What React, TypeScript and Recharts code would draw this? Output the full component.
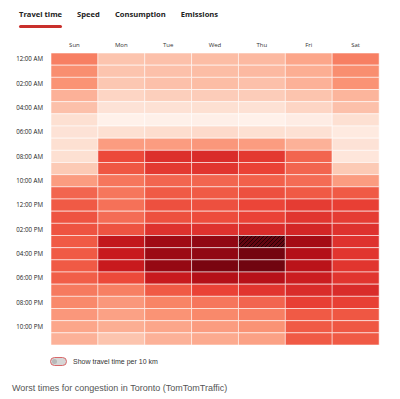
import { BarChart, Bar, XAxis, YAxis, Cell } from 'recharts';

const days = ['Sun', 'Mon', 'Tue', 'Wed', 'Thu', 'Fri', 'Sat'];
const hourTicks = [
  '12:00 AM', '02:00 AM', '04:00 AM', '06:00 AM', '08:00 AM', '10:00 AM',
  '12:00 PM', '02:00 PM', '04:00 PM', '06:00 PM', '08:00 PM', '10:00 PM',
];
const tabs = ['Travel time', 'Speed', 'Consumption', 'Emissions'];

// congestion level per hour (0 = 12 AM ... 23 = 11 PM), 0-100
const sun = [46, 43, 42, 35, 31, 20, 18, 20, 20, 28, 40, 52, 55, 57, 57, 55, 55, 55, 54, 47, 44, 41, 38, 35];
const mon = [30, 30, 29, 24, 18, 5, 20, 40, 60, 56, 48, 48, 49, 50, 57, 77, 75, 75, 60, 46, 41, 39, 36, 30];
const tue = [31, 31, 31, 26, 19, 6, 21, 40, 68, 65, 52, 55, 58, 58, 67, 87, 88, 89, 75, 55, 45, 42, 38, 35];
const wed = [32, 32, 32, 27, 20, 7, 22, 41, 69, 66, 52, 55, 58, 59, 67, 90, 90, 94, 82, 62, 48, 44, 40, 37];
const thu = [33, 33, 31, 27, 19, 5, 20, 40, 65, 62, 53, 58, 61, 62, 69, 98, 95, 96, 81, 66, 52, 46, 42, 39];
const fri = [38, 36, 35, 30, 24, 10, 19, 35, 52, 52, 50, 55, 64, 66, 71, 86, 82, 80, 74, 69, 63, 55, 55, 55];
const sat = [46, 43, 42, 34, 31, 20, 12, 18, 15, 28, 40, 55, 63, 64, 67, 67, 66, 66, 66, 69, 63, 56, 56, 55];
const values = [sun, mon, tue, wed, thu, fri, sat];

// busiest slot, drawn hatched
const peakDay = 'Thu';
const peakHour = 15;

const stops: [number, string][] = [
  [0, '#fff5f0'], [10, '#feece4'], [20, '#fde0d2'], [30, '#fcc4ae'], [38, '#fca68a'],
  [45, '#f88466'], [50, '#f46c55'], [55, '#f05a45'], [62, '#ea4236'], [68, '#dc2f2c'],
  [75, '#c81a1e'], [82, '#b41018'], [88, '#9c0a14'], [94, '#7a0510'], [100, '#5e0410'],
];

const hex = (h: string) => [1, 3, 5].map((i) => parseInt(h.slice(i, i + 2), 16));

const heat = (v: number) => {
  for (let i = 1; i < stops.length; i++) {
    const [v1, c1] = stops[i];
    const [v0, c0] = stops[i - 1];
    if (v <= v1) {
      const t = (v - v0) / (v1 - v0);
      const a = hex(c0);
      const b = hex(c1);
      const rgb = a.map((x, k) => Math.round(x + (b[k] - x) * t));
      return `rgb(${rgb.join(',')})`;
    }
  }
  return stops[stops.length - 1][1];
};

const hours = values[0].map((_, h) => h);
const rows = days.map((day) => {
  const row: Record<string, string | number> = { day };
  hours.forEach((h) => (row[`h${h}`] = 1));
  return row;
});

const font = '"Open Sans", sans-serif';
const plain = '"Liberation Sans", Arial, sans-serif';

const HourTick = ({ x, y, payload }: any) => (
  <text x={x - 6} y={y} dy={2.2} textAnchor="end" fontSize={6.2} fill="#222" fontFamily={font}>
    {hourTicks[(payload.value - 0.5) / 2]}
  </text>
);

export default function App() {
  return (
    <div style={{ position: 'absolute', left: 0, top: 0, width: 400, height: 399, background: '#fff', fontFamily: font }}>
      <svg width={0} height={0} style={{ position: 'absolute' }}>
        <defs>
          <pattern id="hatch" patternUnits="userSpaceOnUse" width={4} height={4}>
            <rect width={4} height={4} fill="#640510" />
            <path d="M-1,1 l2,-2 M0,4 l4,-4 M3,5 l2,-2" stroke="#2a0206" strokeWidth={1} />
          </pattern>
        </defs>
      </svg>

      {/* tabs */}
      <div style={{ position: 'absolute', top: 9, left: 19, display: 'flex', fontSize: 7.6, fontWeight: 700, color: '#222' }}>
        {tabs.map((t, i) => (
          <div key={t} style={{ marginRight: 15, position: 'relative' }}>
            {t}
            {i === 0 && (
              <div style={{ position: 'absolute', left: 0, right: 0, top: 16, height: 2.5, borderRadius: 2, background: '#c9302c' }} />
            )}
          </div>
        ))}
      </div>

      <div style={{ position: 'absolute', left: 0, top: 0 }}>
        <BarChart width={400} height={360} data={rows} margin={{ top: 33, right: 21, bottom: 15, left: 0 }} barCategoryGap={0} barGap={0}>
          <XAxis dataKey="day" orientation="top" axisLine={false} tickLine={false} tickSize={0} tickMargin={6} height={20}
            tick={{ fontSize: 6, fill: '#333', fontFamily: font }} interval={0} />
          <YAxis type="number" domain={[0, 24]} reversed axisLine={false} tickLine={false} tickSize={0} width={51}
            ticks={hourTicks.map((_, i) => i * 2 + 0.5)} tick={<HourTick />} interval={0} />
          {hours.map((h) => (
            <Bar key={h} dataKey={`h${h}`} stackId="grid" isAnimationActive={false}
              stroke="rgba(255,255,255,0.55)" strokeWidth={1}>
              {days.map((d, i) => (
                <Cell key={d} fill={d === peakDay && h === peakHour ? 'url(#hatch)' : heat(values[i][h])} />
              ))}
            </Bar>
          ))}
        </BarChart>
      </div>

      {/* toggle */}
      <div style={{ position: 'absolute', left: 50, top: 357, display: 'flex', alignItems: 'center' }}>
        <div style={{ width: 15, height: 7, borderRadius: 5, border: '1.5px solid #d9676a', background: '#d6d6d6', position: 'relative' }}>
          <div style={{ position: 'absolute', left: 1, top: 1, width: 5, height: 5, borderRadius: '50%', background: '#b8b8b8' }} />
        </div>
        <span style={{ marginLeft: 6, fontSize: 7, color: '#333', fontFamily: plain }}>
          Show travel time per 10 km
        </span>
      </div>

      <div style={{ position: 'absolute', left: 12, top: 383, fontSize: 9, color: '#555', fontFamily: plain }}>
        Worst times for congestion in Toronto (TomTomTraffic)
      </div>
    </div>
  );
}
